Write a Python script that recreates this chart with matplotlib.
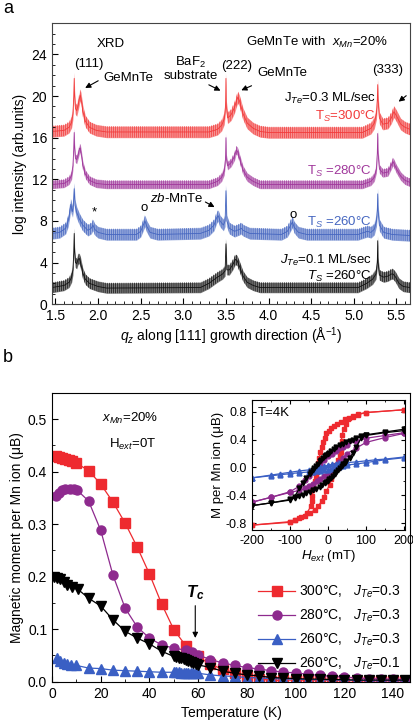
import matplotlib
matplotlib.use("Agg")
import matplotlib.pyplot as plt
from matplotlib.ticker import MultipleLocator

plt.rcParams['font.family'] = ['Liberation Sans', 'DejaVu Sans']
plt.rcParams['mathtext.fontset'] = 'custom'
plt.rcParams['mathtext.rm'] = 'Liberation Sans'
plt.rcParams['mathtext.it'] = 'Liberation Sans:italic'
plt.rcParams['mathtext.bf'] = 'Liberation Sans:bold:italic'
plt.rcParams['axes.unicode_minus'] = False
plt.rcParams['hatch.linewidth'] = 0.5

# ---------------- panel a: XRD scans (key points) -------------
q_red = [1.46, 1.60, 1.66, 1.69, 1.705, 1.715, 1.72, 1.725, 1.735, 1.75, 1.77, 1.785, 1.79, 1.80, 1.82,
         1.85, 1.90, 1.98, 2.10, 3.30, 3.40, 3.45, 3.48, 3.495, 3.50, 3.505, 3.52, 3.56, 3.60, 3.63,
         3.64, 3.66, 3.70, 3.75, 3.82, 3.90, 4.00, 5.10, 5.20, 5.24, 5.265, 5.275, 5.28, 5.285, 5.30,
         5.34, 5.40, 5.44, 5.47, 5.50, 5.55, 5.60, 5.66]
I_red = [16.6, 16.7, 17.0, 17.5, 18.3, 20.0, 21.7, 20.0, 18.8, 18.6, 19.3, 19.9, 20.1, 19.8, 18.6,
         17.6, 17.0, 16.7, 16.55, 16.55, 16.8, 17.2, 17.8, 19.0, 21.7, 19.0, 17.9, 18.2, 18.9, 19.7,
         19.9, 19.5, 18.3, 17.4, 16.9, 16.6, 16.5, 16.5, 16.9, 17.4, 18.3, 19.6, 21.1, 19.6, 17.9,
         17.3, 17.4, 17.9, 18.5, 18.1, 17.3, 17.0, 16.8]

q_pur = [1.46, 1.60, 1.66, 1.69, 1.705, 1.715, 1.72, 1.725, 1.735, 1.75, 1.77, 1.785, 1.79, 1.80, 1.82,
         1.85, 1.90, 1.98, 2.10, 3.30, 3.40, 3.45, 3.48, 3.495, 3.50, 3.505, 3.52, 3.56, 3.60, 3.62,
         3.635, 3.65, 3.66, 3.70, 3.75, 3.82, 3.90, 5.10, 5.20, 5.24, 5.265, 5.275, 5.28, 5.285, 5.30,
         5.34, 5.40, 5.43, 5.46, 5.50, 5.55, 5.60, 5.66]
I_pur = [11.5, 11.6, 11.9, 12.4, 13.3, 15.0, 16.5, 15.0, 14.0, 13.9, 14.5, 15.0, 15.0, 14.6, 13.4,
         12.5, 11.9, 11.6, 11.5, 11.5, 11.8, 12.2, 12.8, 14.0, 16.0, 14.0, 13.3, 13.6, 14.2, 14.8,
         14.7, 14.3, 14.0, 12.9, 12.2, 11.8, 11.5, 11.5, 11.8, 12.2, 13.0, 14.5, 16.4, 14.5, 13.0,
         12.6, 12.7, 13.2, 13.7, 13.0, 12.3, 11.9, 11.7]

q_blu = [1.46, 1.55, 1.62, 1.65, 1.67, 1.68, 1.69, 1.70, 1.71, 1.72, 1.73, 1.75, 1.78, 1.82, 1.88,
         1.92, 1.94, 1.96, 2.00, 2.10, 2.45, 2.50, 2.53, 2.55, 2.57, 2.61, 2.70, 3.20, 3.30, 3.36,
         3.39, 3.41, 3.43, 3.47, 3.49, 3.50, 3.51, 3.54, 3.60, 3.66, 3.68, 3.70, 3.78, 4.15, 4.22,
         4.26, 4.28, 4.30, 4.35, 4.45, 5.05, 5.12, 5.16, 5.20, 5.24, 5.265, 5.275, 5.28, 5.285, 5.30,
         5.35, 5.45, 5.66]
I_blu = [6.8, 6.9, 7.3, 8.0, 9.0, 9.6, 9.2, 8.9, 9.5, 11.1, 9.5, 8.8, 8.2, 7.6, 7.1,
         7.3, 7.6, 7.2, 6.9, 6.7, 6.7, 7.0, 7.6, 8.0, 7.5, 6.9, 6.7, 6.8, 7.1, 7.6,
         8.3, 8.5, 8.0, 7.6, 8.0, 10.9, 8.0, 7.3, 7.0, 7.2, 7.3, 7.1, 6.8, 6.7, 7.0,
         7.6, 7.9, 7.4, 6.9, 6.7, 6.7, 6.9, 7.0, 6.9, 7.2, 8.0, 9.0, 10.6, 9.0, 7.6,
         6.9, 6.7, 6.6]

q_blk = [1.46, 1.60, 1.66, 1.69, 1.705, 1.715, 1.72, 1.725, 1.735, 1.75, 1.765, 1.78, 1.795, 1.82,
         1.85, 1.90, 2.00, 2.10, 3.20, 3.30, 3.40, 3.46, 3.49, 3.50, 3.51, 3.54, 3.58, 3.61, 3.63,
         3.66, 3.70, 3.75, 3.82, 3.90, 5.05, 5.15, 5.22, 5.26, 5.275, 5.28, 5.285, 5.30, 5.35, 5.40,
         5.44, 5.46, 5.49, 5.53, 5.58, 5.66]
I_blk = [1.6, 1.8, 2.1, 2.6, 3.3, 5.0, 6.8, 5.0, 4.0, 3.9, 4.3, 4.4, 4.0, 3.0,
         2.4, 2.0, 1.7, 1.55, 1.6, 2.0, 2.6, 2.9, 3.2, 5.8, 3.3, 3.3, 3.8, 4.3, 4.2,
         3.6, 2.7, 2.1, 1.8, 1.6, 1.6, 2.0, 2.4, 2.9, 4.0, 6.1, 4.0, 2.8, 2.6, 2.7,
         2.9, 2.9, 2.6, 2.0, 1.7, 1.6]

noise_amp = [0.55, 0.4, 0.55, 0.5]   # half-height of the noisy band of each scan
xrd_colors = ['#f23a3a', '#a0379b', '#4566c0', '#111111']

# ---------------- panel b: M(T) --------------------------------------------------
T_300 = [1.5, 2.8, 4.1, 5.5, 6.8, 8.2, 10, 15, 20, 25, 30, 35, 40, 45, 50, 55, 60, 65, 70, 75, 80,
         85, 90, 95, 100, 105, 110, 115, 120, 125, 130, 135, 140, 145]
M_300 = [0.430, 0.428, 0.425, 0.423, 0.422, 0.420, 0.416, 0.402, 0.376, 0.342, 0.302, 0.256, 0.205,
         0.148, 0.099, 0.068, 0.048, 0.033, 0.024, 0.017, 0.011, 0.006, 0.002, 0.003, 0.003, 0.003,
         0.003, 0.003, 0.002, 0.002, 0.002, 0.002, 0.002, 0.002]
T_280 = [1.5, 2.8, 4.1, 5.5, 7.2, 8.9, 10.2, 15, 20, 25, 30, 35, 40, 45, 50, 55, 57.5, 60, 65, 70, 75,
         80, 85, 90, 95, 100, 105, 110, 115, 120, 125, 130, 135, 140, 145]
M_280 = [0.354, 0.359, 0.364, 0.366, 0.367, 0.366, 0.365, 0.344, 0.288, 0.203, 0.140, 0.104, 0.083,
         0.070, 0.064, 0.060, 0.056, 0.051, 0.042, 0.036, 0.031, 0.027, 0.024, 0.021, 0.018, 0.017,
         0.014, 0.012, 0.010, 0.009, 0.007, 0.006, 0.005, 0.005, 0.004]
T_260 = [2, 3.4, 4.8, 6.2, 7.6, 10, 15, 20, 25, 30, 35, 40, 45, 50, 51, 52, 53, 54, 55, 56, 57, 58, 59,
         60, 65, 70, 75, 80, 85, 90, 95, 100, 105, 110, 115, 120, 125, 130, 135, 140, 145]
M_260 = [0.045, 0.040, 0.036, 0.033, 0.031, 0.031, 0.026, 0.025, 0.022, 0.021, 0.020, 0.019, 0.018,
         0.018, 0.0178, 0.0176, 0.0174, 0.0172, 0.017, 0.0168, 0.0166, 0.0164, 0.0162, 0.016, 0.013,
         0.011, 0.010, 0.008, 0.007, 0.006, 0.005, 0.005, 0.004, 0.004, 0.003, 0.003, 0.003, 0.002,
         0.002, 0.002, 0.002]
T_260b = [0.7, 2, 3.4, 4.8, 6.2, 8.2, 10.6, 15, 20, 25, 30, 35, 40, 45, 50, 51, 52, 53, 54, 55, 56, 57,
          58, 59, 60, 65, 70, 75, 80, 85, 90, 95, 100, 105, 110, 115, 120, 125, 130, 135, 140, 145]
M_260b = [0.200, 0.198, 0.195, 0.189, 0.184, 0.180, 0.176, 0.159, 0.144, 0.118, 0.096, 0.083, 0.072,
          0.058, 0.048, 0.047, 0.046, 0.045, 0.043, 0.042, 0.040, 0.038, 0.036, 0.034, 0.032, 0.027,
          0.020, 0.016, 0.013, 0.011, 0.008, 0.007, 0.006, 0.005, 0.005, 0.004, 0.004, 0.003, 0.003,
          0.003, 0.003, 0.003]
mt_labels = ['300°C,   $J_{Te}$=0.3', '280°C,   $J_{Te}$=0.3', '260°C,   $J_{Te}$=0.3', '260°C,   $J_{Te}$=0.1']
mt_colors = ['#ee2a2f', '#8e2a8e', '#3a5fc4', '#000000']
mt_markers = ['s', 'o', '^', 'v']

# ---------------- inset: hysteresis at 4 K (descending branch, ascending branch) --
H_300_dn = [200, 100, 80, 65, 55, 45, 35, 25, 15, 8, 2, -4, -9, -13, -17, -20, -23, -25, -27, -29,
            -31, -35, -40, -41, -41, -42, -45, -55, -70, -88, -100, -200]
M_300_dn = [0.83, 0.79, 0.76, 0.73, 0.71, 0.69, 0.66, 0.63, 0.60, 0.57, 0.53, 0.49, 0.43, 0.36, 0.29,
            0.22, 0.14, 0.07, 0.0, -0.07, -0.13, -0.19, -0.25, -0.33, -0.41, -0.49, -0.56, -0.65,
            -0.72, -0.76, -0.78, -0.83]
H_300_up = [-200, -100, -88, -75, -61, -48, -35, -25, -17, -10, -4, 4.5, 9, 13, 18, 22, 27, 31, 35,
            35, 36, 36, 42, 48, 53, 65, 80, 100, 200]
M_300_up = [-0.83, -0.79, -0.76, -0.73, -0.70, -0.66, -0.61, -0.55, -0.49, -0.42, -0.34, -0.25, -0.17,
            -0.10, -0.03, 0.04, 0.10, 0.16, 0.22, 0.30, 0.38, 0.46, 0.55, 0.62, 0.70, 0.74, 0.77,
            0.79, 0.83]
H_280_dn = [200, 150, 100, 75, 50, 40, 30, 20, 10, 0, -10, -20, -30, -40, -50, -60, -75, -100, -150, -200]
M_280_dn = [0.50, 0.46, 0.42, 0.38, 0.33, 0.30, 0.28, 0.24, 0.20, 0.16, 0.11, 0.05, 0.0, -0.06,
            -0.12, -0.18, -0.27, -0.35, -0.43, -0.50]
H_280_up = [-200, -150, -100, -75, -60, -50, -40, -30, -20, -10, 0, 10, 20, 30, 40, 50, 75, 100, 150, 200]
M_280_up = [-0.50, -0.43, -0.36, -0.33, -0.30, -0.27, -0.24, -0.20, -0.16, -0.12, -0.08, -0.03, 0.03,
            0.08, 0.14, 0.20, 0.28, 0.36, 0.43, 0.49]
H_260_dn = [200, 150, 125, 100, 75, 50, 40, 30, 20, 10, 0, -10, -20, -30, -40, -50, -75, -100, -125, -150, -200]
M_260_dn = [0.15, 0.12, 0.11, 0.095, 0.08, 0.07, 0.065, 0.06, 0.052, 0.043, 0.03, 0.018, 0.005, -0.01,
            -0.025, -0.035, -0.05, -0.07, -0.09, -0.11, -0.15]
H_260_up = [-200, -150, -125, -100, -75, -50, -40, -30, -20, -10, 0, 10, 20, 30, 40, 50, 75, 100, 125, 150, 200]
M_260_up = [-0.15, -0.12, -0.105, -0.09, -0.075, -0.065, -0.06, -0.055, -0.048, -0.04, -0.03, -0.018,
            -0.005, 0.01, 0.025, 0.035, 0.05, 0.07, 0.09, 0.11, 0.14]
H_260b_dn = [200, 150, 100, 88, 75, 66, 57, 48, 40, 31, 22, 15, 8, 4, 0, -4, -9, -13, -18, -22, -27, -31,
             -36, -40, -44, -48, -57, -66, -75, -88, -100, -150, -200]
M_260b_dn = [0.55, 0.51, 0.47, 0.45, 0.42, 0.40, 0.38, 0.36, 0.34, 0.32, 0.29, 0.26, 0.23, 0.21, 0.20,
             0.18, 0.16, 0.14, 0.11, 0.09, 0.05, 0.02, -0.01, -0.04, -0.06, -0.09, -0.15, -0.22,
             -0.30, -0.42, -0.46, -0.51, -0.55]
H_260b_up = [-200, -150, -100, -88, -75, -66, -57, -48, -40, -31, -22, -15, -8, -4, 0, 4, 9, 13, 18, 22,
             27, 31, 36, 40, 44, 48, 57, 66, 75, 88, 100, 150, 200]
M_260b_up = [-0.55, -0.51, -0.47, -0.44, -0.41, -0.39, -0.37, -0.35, -0.33, -0.31, -0.28, -0.25, -0.22,
             -0.21, -0.19, -0.17, -0.15, -0.13, -0.10, -0.07, -0.04, -0.01, 0.02, 0.05, 0.07, 0.09,
             0.14, 0.21, 0.30, 0.43, 0.46, 0.50, 0.53]

fig = plt.figure(figsize=(4.13, 7.26), dpi=100)

# ================= panel a =================
ax = fig.add_axes([0.126, 0.581, 0.867, 0.387])
scans = [(q_red, I_red), (q_pur, I_pur), (q_blu, I_blu), (q_blk, I_blk)]
for (q, I), a, c in zip(scans, noise_amp, xrd_colors):
    lo = [v - a for v in I]
    hi = [v + a for v in I]
    ax.fill_between(q, lo, hi, color=c, alpha=0.55, lw=0)
    ax.fill_between(q, lo, hi, facecolor='none', edgecolor=c, hatch='||||||||', lw=0)
    ax.plot(q, I, color=c, lw=0.6)
ax.set_xlim(1.46, 5.66)
ax.set_ylim(0, 27)
ax.xaxis.set_major_locator(MultipleLocator(0.5))
ax.xaxis.set_minor_locator(MultipleLocator(0.1))
ax.yaxis.set_major_locator(MultipleLocator(4))
ax.yaxis.set_minor_locator(MultipleLocator(1))
ax.xaxis.set_major_formatter(matplotlib.ticker.FormatStrFormatter('%.1f'))
ax.tick_params(which='both', direction='in', labelsize=10)
ax.tick_params(which='major', length=4)
ax.tick_params(which='minor', length=2)
for s in ax.spines.values():
    s.set_color('#444444')
ax.set_ylabel('log intensity (arb.units)', fontsize=10, labelpad=3)
ax.set_xlabel('$q_z$ along [111] growth direction (Å$^{-1}$)', fontsize=10, labelpad=2)

fs = 9.5
ax.text(2.15, 25.0, 'XRD', fontsize=fs, ha='center', va='center')
ax.text(4.57, 25.2, 'GeMnTe with  $x_{Mn}$=20%', fontsize=fs, ha='center', va='center')
ax.text(1.886, 23.1, '(111)', fontsize=fs, ha='center', va='center')
ax.text(2.36, 21.7, 'GeMnTe', fontsize=fs, ha='center', va='center')
ax.text(3.09, 22.65, 'BaF$_2$\nsubstrate', fontsize=fs, ha='center', va='center', linespacing=0.95)
ax.text(3.62, 22.85, '(222)', fontsize=fs, ha='center', va='center')
ax.text(4.16, 22.2, 'GeMnTe', fontsize=fs, ha='center', va='center')
ax.text(5.40, 22.55, '(333)', fontsize=fs, ha='center', va='center')
arr = dict(arrowstyle='-|>', color='k', lw=0.8, mutation_scale=8)
ax.annotate('', xy=(1.82, 20.65), xytext=(2.03, 21.6), arrowprops=arr)
ax.annotate('', xy=(3.465, 20.4), xytext=(3.27, 21.2), arrowprops=arr)
ax.annotate('', xy=(3.65, 20.45), xytext=(3.83, 21.1), arrowprops=arr)
ax.annotate('', xy=(5.50, 19.3), xytext=(5.64, 20.2), arrowprops=arr)
ax.annotate('', xy=(3.395, 9.2), xytext=(3.23, 9.95), arrowprops=arr)
ax.text(5.26, 19.8, 'J$_{Te}$=0.3 ML/sec', fontsize=fs, ha='right', va='center')
ax.text(5.26, 18.0, 'T$_{S}$=300°C', fontsize=fs, ha='right', va='center', color=xrd_colors[0])
ax.text(5.21, 12.8, 'T$_{S}$ =280°C', fontsize=fs, ha='right', va='center', color=xrd_colors[1])
ax.text(5.21, 7.9, 'T$_{S}$ =260°C', fontsize=fs, ha='right', va='center', color=xrd_colors[2])
ax.text(5.21, 4.2, '$J_{Te}$=0.1 ML/sec', fontsize=fs, ha='right', va='center')
ax.text(5.21, 2.7, '$T_{S}$ =260°C', fontsize=fs, ha='right', va='center')
ax.text(1.95, 8.8, '*', fontsize=fs, ha='center', va='center')
ax.text(2.54, 9.2, 'o', fontsize=fs, ha='center', va='center')
ax.text(4.29, 8.6, 'o', fontsize=fs, ha='center', va='center')
ax.text(2.92, 10.2, '$zb$-MnTe', fontsize=fs, ha='center', va='center')

# ================= panel b =================
bx = fig.add_axes([0.126, 0.061, 0.867, 0.398])
series = [(T_300, M_300), (T_280, M_280), (T_260, M_260), (T_260b, M_260b)]
for (t, m), c, mk, lab in zip(series, mt_colors, mt_markers, mt_labels):
    bx.plot(t, m, color=c, marker=mk, ms=6.5, lw=0.9, label=lab)
bx.set_xlim(0, 147)
bx.set_ylim(0, 0.55)
bx.xaxis.set_major_locator(MultipleLocator(20))
bx.xaxis.set_minor_locator(MultipleLocator(10))
bx.yaxis.set_major_locator(MultipleLocator(0.1))
bx.yaxis.set_minor_locator(MultipleLocator(0.05))
bx.tick_params(which='both', direction='in', labelsize=10)
bx.tick_params(which='major', length=4)
bx.tick_params(which='minor', length=2)
bx.set_xlabel('Temperature (K)', fontsize=10)
bx.set_ylabel('Magnetic moment per Mn ion (μB)', fontsize=10, labelpad=3)
bx.text(32, 0.502, '$x_{Mn}$=20%', fontsize=fs, ha='center', va='center')
bx.text(33, 0.452, 'H$_{ext}$=0T', fontsize=fs, ha='center', va='center')
bx.text(58.8, 0.169, r'$\mathbf{T_c}$', fontsize=12, ha='center', va='center')
bx.annotate('', xy=(58.8, 0.078), xytext=(58.8, 0.150), arrowprops=arr)
bx.legend(loc='lower right', bbox_to_anchor=(1.0, 0.0), frameon=False, fontsize=10,
          handlelength=2.6, labelspacing=0.55, handletextpad=0.3, borderpad=0.2)

# ================= inset =================
ix = fig.add_axes([0.610, 0.270, 0.371, 0.179])
loops = [(H_300_dn, M_300_dn, H_300_up, M_300_up), (H_280_dn, M_280_dn, H_280_up, M_280_up),
         (H_260_dn, M_260_dn, H_260_up, M_260_up), (H_260b_dn, M_260b_dn, H_260b_up, M_260b_up)]
for (h1, m1, h2, m2), c, mk in zip(loops, mt_colors, mt_markers):
    ix.plot(h1, m1, color=c, marker=mk, ms=3.5, lw=0.9)
    ix.plot(h2, m2, color=c, marker=mk, ms=3.5, lw=0.9)
ix.set_xlim(-200, 203)
ix.set_ylim(-0.9, 0.97)
ix.xaxis.set_major_locator(MultipleLocator(100))
ix.xaxis.set_minor_locator(MultipleLocator(50))
ix.yaxis.set_major_locator(MultipleLocator(0.4))
ix.yaxis.set_minor_locator(MultipleLocator(0.2))
ix.yaxis.set_major_formatter(matplotlib.ticker.FormatStrFormatter('%.1f'))
ix.tick_params(which='both', direction='in', top=True, right=True, labelsize=9)
ix.tick_params(which='major', length=3)
ix.tick_params(which='minor', length=1.5)
ix.set_xlabel('$H_{ext}$ (mT)', fontsize=9.5, labelpad=1)
ix.set_ylabel('M per Mn ion (μB)', fontsize=9.5, labelpad=1)
ix.text(0.04, 0.9, 'T=4K', transform=ix.transAxes, fontsize=9.5, ha='left', va='center')

fig.text(0.02, 0.988, 'a', fontsize=13, ha='center', va='center')
fig.text(0.02, 0.508, 'b', fontsize=13, ha='center', va='center')

fig.savefig('out.png', dpi=100)
